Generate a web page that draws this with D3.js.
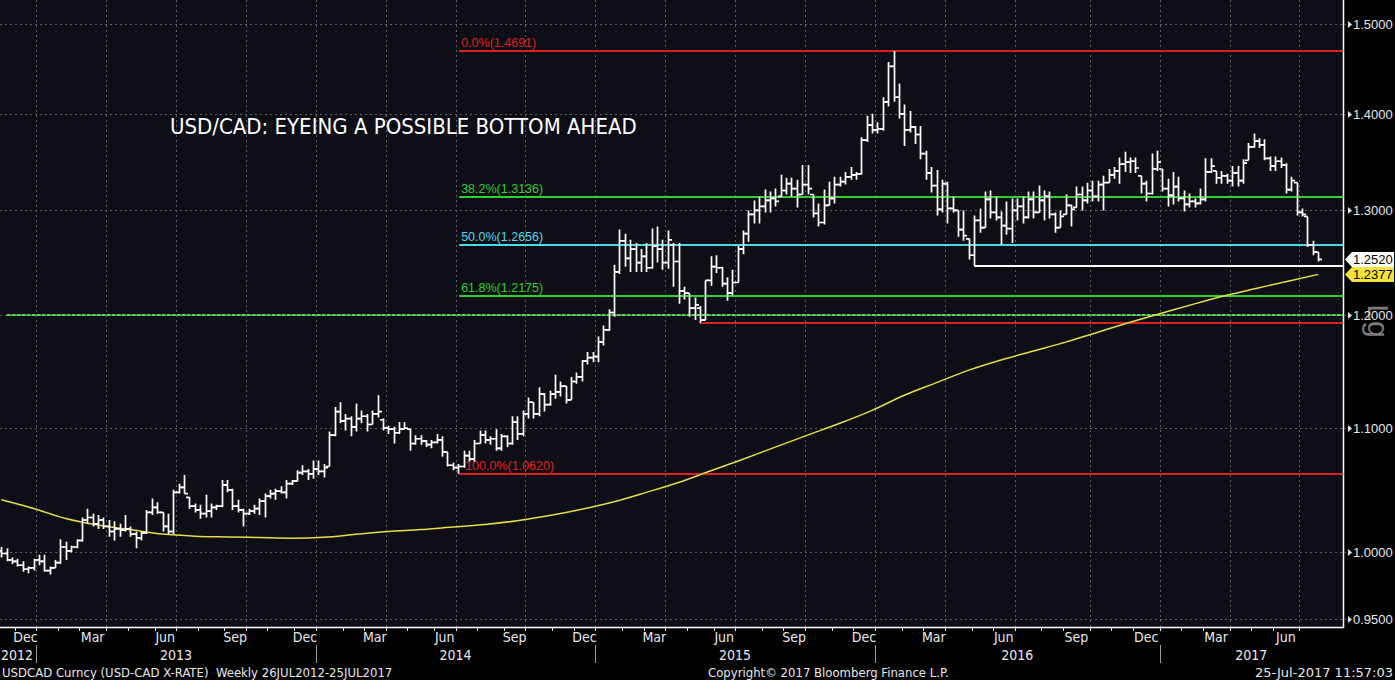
<!DOCTYPE html>
<html><head><meta charset="utf-8">
<script src="https://cdn.jsdelivr.net/npm/d3@7"></script>
<style>
html,body{margin:0;padding:0;background:#000;}
svg{display:block;}
</style></head><body>
<svg id="chart" width="1395" height="680"></svg>
<script>
// ---------- DATA ----------
const firstWeek = "2012-11-16";   // first visible weekly bar (Friday)
const lastWeek  = "2017-07-28";   // last weekly bar
const highs = [
1.004,1.003,0.996,0.995,0.993,0.989,0.995,0.998,0.998,0.989,
0.994,1.010,1.008,1.005,1.010,1.027,1.034,1.030,1.029,1.027,
1.025,1.024,1.022,1.029,1.020,1.016,1.016,1.033,1.042,1.039,
1.031,1.030,1.049,1.054,1.061,1.043,1.038,1.037,1.045,1.038,
1.037,1.057,1.057,1.050,1.041,1.034,1.034,1.037,1.042,1.046,
1.049,1.050,1.052,1.057,1.057,1.065,1.069,1.066,1.073,1.073,
1.070,1.097,1.118,1.122,1.112,1.110,1.121,1.115,1.112,1.115,
1.128,1.108,1.102,1.101,1.105,1.105,1.099,1.094,1.094,1.090,
1.090,1.095,1.093,1.080,1.071,1.070,1.081,1.081,1.090,1.098,
1.098,1.093,1.099,1.095,1.094,1.110,1.110,1.115,1.126,1.122,
1.135,1.130,1.132,1.146,1.140,1.136,1.144,1.148,1.159,1.166,
1.166,1.180,1.190,1.205,1.247,1.281,1.277,1.271,1.268,1.262,
1.268,1.282,1.284,1.271,1.280,1.268,1.268,1.226,1.220,1.216,
1.208,1.232,1.255,1.256,1.245,1.235,1.242,1.265,1.280,1.300,
1.310,1.314,1.321,1.319,1.322,1.336,1.333,1.333,1.331,1.346,
1.346,1.316,1.307,1.321,1.329,1.334,1.334,1.339,1.344,1.339,
1.375,1.398,1.400,1.391,1.418,1.457,1.4691,1.433,1.410,1.403,
1.387,1.387,1.361,1.344,1.341,1.331,1.329,1.314,1.300,1.300,
1.272,1.295,1.302,1.319,1.320,1.314,1.299,1.309,1.312,1.312,
1.314,1.319,1.319,1.325,1.320,1.319,1.298,1.300,1.316,1.306,
1.324,1.324,1.328,1.330,1.330,1.335,1.342,1.344,1.354,1.360,
1.354,1.354,1.335,1.330,1.358,1.361,1.342,1.332,1.339,1.334,
1.320,1.317,1.312,1.322,1.353,1.353,1.340,1.340,1.337,1.345,
1.345,1.352,1.369,1.379,1.374,1.373,1.355,1.355,1.354,1.348,
1.334,1.328,1.302,1.294,1.270,1.259];
const lows = [
0.996,0.993,0.991,0.989,0.985,0.984,0.986,0.990,0.985,0.983,
0.988,0.991,0.994,1.000,1.003,1.008,1.022,1.020,1.018,1.018,
1.012,1.009,1.012,1.016,1.012,1.003,1.009,1.014,1.029,1.030,
1.016,1.014,1.014,1.046,1.046,1.034,1.031,1.026,1.027,1.027,
1.033,1.035,1.047,1.033,1.031,1.020,1.029,1.030,1.029,1.027,
1.042,1.041,1.046,1.042,1.053,1.056,1.061,1.057,1.058,1.061,
1.059,1.068,1.093,1.104,1.098,1.093,1.097,1.104,1.097,1.103,
1.109,1.098,1.095,1.087,1.095,1.099,1.081,1.086,1.086,1.084,
1.083,1.087,1.076,1.068,1.065,1.0620,1.067,1.072,1.072,1.087,
1.087,1.086,1.081,1.081,1.084,1.086,1.090,1.093,1.108,1.108,
1.110,1.114,1.119,1.125,1.127,1.121,1.124,1.138,1.140,1.155,
1.157,1.157,1.172,1.185,1.198,1.238,1.245,1.240,1.240,1.240,
1.240,1.243,1.249,1.242,1.243,1.226,1.210,1.214,1.198,1.195,
1.1920,1.195,1.227,1.239,1.226,1.213,1.218,1.230,1.257,1.269,
1.287,1.287,1.298,1.298,1.304,1.314,1.316,1.314,1.303,1.316,
1.316,1.293,1.284,1.286,1.305,1.307,1.324,1.326,1.331,1.331,
1.336,1.370,1.379,1.379,1.382,1.408,1.413,1.395,1.366,1.380,
1.368,1.352,1.331,1.318,1.295,1.298,1.287,1.298,1.274,1.270,
1.252,1.2461,1.278,1.283,1.292,1.290,1.266,1.276,1.268,1.290,
1.287,1.292,1.292,1.298,1.290,1.292,1.278,1.283,1.296,1.284,
1.303,1.300,1.307,1.309,1.309,1.300,1.328,1.332,1.327,1.339,
1.338,1.338,1.317,1.309,1.316,1.340,1.319,1.304,1.306,1.309,
1.299,1.303,1.303,1.306,1.309,1.338,1.327,1.327,1.327,1.324,
1.324,1.327,1.351,1.364,1.364,1.351,1.340,1.340,1.343,1.317,
1.319,1.295,1.294,1.264,1.256,1.250];
const opens = [
1.001,0.999,0.994,0.993,0.990,0.987,0.988,0.994,0.993,0.986,
0.988,0.992,1.004,1.001,1.004,1.009,1.025,1.027,1.022,1.025,
1.020,1.016,1.018,1.017,1.018,1.014,1.011,1.015,1.031,1.035,
1.031,1.020,1.016,1.047,1.051,1.043,1.036,1.033,1.030,1.032,
1.035,1.036,1.053,1.049,1.036,1.033,1.030,1.032,1.034,1.040,
1.044,1.046,1.048,1.047,1.054,1.056,1.063,1.064,1.062,1.066,
1.064,1.068,1.094,1.114,1.106,1.108,1.101,1.108,1.110,1.103,
1.112,1.107,1.100,1.099,1.096,1.099,1.099,1.087,1.091,1.089,
1.086,1.088,1.090,1.080,1.069,1.067,1.068,1.077,1.074,1.087,
1.094,1.090,1.091,1.083,1.093,1.087,1.105,1.095,1.112,1.122,
1.112,1.129,1.120,1.129,1.131,1.136,1.124,1.140,1.144,1.158,
1.161,1.162,1.175,1.186,1.202,1.240,1.270,1.253,1.262,1.249,
1.255,1.244,1.265,1.262,1.249,1.266,1.250,1.222,1.220,1.206,
1.206,1.195,1.232,1.245,1.244,1.229,1.220,1.230,1.262,1.277,
1.296,1.300,1.304,1.310,1.312,1.314,1.320,1.327,1.322,1.316,
1.326,1.316,1.297,1.288,1.305,1.312,1.326,1.329,1.334,1.336,
1.337,1.372,1.388,1.383,1.384,1.413,1.452,1.418,1.400,1.383,
1.386,1.378,1.358,1.338,1.325,1.301,1.327,1.302,1.300,1.281,
1.272,1.256,1.290,1.283,1.311,1.298,1.293,1.285,1.282,1.300,
1.304,1.293,1.311,1.298,1.310,1.314,1.296,1.283,1.296,1.305,
1.303,1.316,1.310,1.320,1.314,1.326,1.328,1.336,1.340,1.347,
1.349,1.350,1.335,1.327,1.317,1.342,1.342,1.322,1.315,1.324,
1.312,1.306,1.309,1.307,1.311,1.339,1.340,1.333,1.335,1.330,
1.338,1.330,1.351,1.365,1.371,1.367,1.353,1.345,1.350,1.346,
1.321,1.328,1.298,1.294,1.266,1.259];
const closes = [
0.999,0.994,0.993,0.990,0.987,0.988,0.994,0.993,0.986,0.988,
0.992,1.004,1.001,1.004,1.009,1.025,1.027,1.022,1.025,1.020,
1.016,1.018,1.017,1.018,1.014,1.011,1.015,1.031,1.035,1.031,
1.020,1.016,1.047,1.051,1.046,1.036,1.033,1.030,1.032,1.035,
1.036,1.053,1.049,1.036,1.033,1.030,1.032,1.034,1.040,1.044,
1.046,1.048,1.047,1.054,1.056,1.063,1.064,1.062,1.066,1.064,
1.067,1.094,1.114,1.106,1.108,1.101,1.108,1.110,1.103,1.112,
1.114,1.100,1.099,1.096,1.099,1.100,1.087,1.091,1.089,1.086,
1.088,1.090,1.080,1.069,1.067,1.068,1.077,1.074,1.087,1.094,
1.090,1.091,1.083,1.093,1.087,1.105,1.095,1.112,1.122,1.112,
1.129,1.120,1.129,1.131,1.136,1.124,1.140,1.144,1.158,1.161,
1.162,1.175,1.186,1.202,1.240,1.270,1.253,1.262,1.249,1.255,
1.244,1.265,1.262,1.249,1.271,1.250,1.222,1.220,1.206,1.209,
1.195,1.232,1.245,1.244,1.229,1.220,1.230,1.262,1.277,1.296,
1.300,1.304,1.310,1.312,1.309,1.320,1.327,1.322,1.316,1.326,
1.322,1.297,1.288,1.305,1.312,1.326,1.329,1.334,1.336,1.337,
1.372,1.388,1.383,1.384,1.413,1.452,1.418,1.400,1.383,1.386,
1.378,1.358,1.338,1.325,1.301,1.327,1.302,1.300,1.281,1.275,
1.256,1.290,1.283,1.311,1.298,1.293,1.285,1.282,1.300,1.304,
1.293,1.311,1.298,1.310,1.314,1.296,1.283,1.294,1.305,1.301,
1.316,1.310,1.320,1.314,1.326,1.328,1.336,1.340,1.347,1.349,
1.350,1.343,1.327,1.317,1.342,1.349,1.322,1.315,1.324,1.312,
1.306,1.309,1.307,1.311,1.339,1.345,1.333,1.335,1.330,1.338,
1.330,1.348,1.365,1.371,1.367,1.353,1.345,1.350,1.346,1.321,
1.330,1.298,1.296,1.266,1.259,1.2520];
// moving average (yellow), sampled every 6th weekly bar plus the last bar
const maEvery = 6;
const maValues = [
1.0410,1.0341,1.0262,1.0210,1.0175,1.0140,1.0124,1.0118,1.0113,1.0108,
1.0115,1.0138,1.0160,1.0175,1.0195,1.0215,1.0245,1.0285,1.0335,1.0395,
1.0470,1.0550,1.0645,1.0740,1.0840,1.0940,1.1040,1.1150,1.1280,1.1390,
1.1500,1.1590,1.1670,1.1750,1.1840,1.1930,1.2015,1.2100,1.2180,1.2250,
1.2320,1.2377];
const yTicks = [0.95, 1.0, 1.1, 1.2, 1.3, 1.4, 1.5];
const fibLabels = ["0.0%", "38.2%", "50.0%", "61.8%", "100.0%"];
const fibValues = [1.4691, 1.3136, 1.2656, 1.2175, 1.0620];
const fibAnchorWeek = 85;          // bar of the 1.0620 low where the retracement starts
const supportValue = 1.1920;       // May-2015 low (red line)
const supportWeek = 130;
const recentLowValue = 1.2461;     // May-2016 low (white line)
const recentLowWeek = 181;
const roundLevel = 1.2000;         // dashed green line
const lastClose = 1.2520;
const lastMA = 1.2377;
const title = "USD/CAD: EYEING A POSSIBLE BOTTOM AHEAD";
const footerLeft = "USDCAD Curncy (USD-CAD X-RATE)\u00A0\u00A0Weekly 26JUL2012-25JUL2017";
const footerMid = "Copyright\u00A9 2017 Bloomberg Finance L.P.";
const footerRight = "25-Jul-2017 11:57:03";

// ---------- LAYOUT ----------
const W = 1395, H = 680;
const plotR = 1343, plotB = 627;
const narrow = "'Liberation Sans Narrow','Arial Narrow','DejaVu Sans Condensed',sans-serif";
const regular = "'Liberation Sans',Arial,sans-serif";

const parse = d3.timeParse("%Y-%m-%d");
const weeks = d3.timeFriday.range(parse(firstWeek), d3.timeDay.offset(parse(lastWeek), 1));
const n = closes.length;
const bars = d3.range(n).map(i => ({i, date: weeks[i], o: opens[i], h: highs[i], l: lows[i], c: closes[i]}));

const x = d3.scaleLinear().domain([0, n - 1]).range([1.3, 1.3 + 5.375 * (n - 1)]);
const y = d3.scaleLog().domain([0.95, 1.5]).range([619, 24]);
const half = 2.6;

const svg = d3.select("#chart");
svg.append("rect").attr("width", W).attr("height", H).attr("fill", "#000");
svg.append("rect").attr("width", plotR).attr("height", plotB).attr("fill", "#0e0e16");

svg.append("defs").append("clipPath").attr("id", "clip")
  .append("rect").attr("width", plotR).attr("height", plotB);
const plot = svg.append("g").attr("clip-path", "url(#clip)");

// month groups
const monthGroups = d3.groups(bars, b => d3.timeMonth(b.date)).map(([m, arr]) => ({m, first: arr[0].i, last: arr[arr.length - 1].i}));
const yearGroups = d3.groups(bars, b => b.date.getFullYear()).map(([yr, arr]) => ({yr, first: arr[0].i, last: arr[arr.length - 1].i}));

// grid
const gridColor = "#5e5e66";
const grid = plot.append("g").attr("stroke", gridColor).attr("stroke-width", 1).attr("stroke-dasharray", "2,3");
monthGroups.filter(g => g.m.getMonth() % 3 === 0 && g.first > 0).forEach(g => {
  const gx = Math.round(x(g.first) - half) + 0.5;
  grid.append("line").attr("x1", gx).attr("x2", gx).attr("y1", 0).attr("y2", plotB);
});
yTicks.forEach(t => {
  const gy = Math.round(y(t)) + 0.5;
  grid.append("line").attr("x1", 0).attr("x2", plotR).attr("y1", gy).attr("y2", gy);
});

// horizontal studies
const fibColors = ["#e01e1e", "#2fd02f", "#4fd8e8", "#2fd02f", "#e01e1e"];
const fx0 = x(fibAnchorWeek) + 1;
function hline(v, x0, color, dash) {
  const yy = Math.round(y(v));
  const l = plot.append("line").attr("x1", x0).attr("x2", plotR).attr("y1", yy).attr("y2", yy)
    .attr("stroke", color).attr("stroke-width", 2);
  if (dash) l.attr("stroke-dasharray", dash);
  return yy;
}
fibValues.forEach((v, k) => {
  const yy = hline(v, fx0, fibColors[k]);
  plot.append("text").attr("x", fx0 + (k === 4 ? 6 : 2)).attr("y", yy - 4)
    .attr("fill", fibColors[k]).attr("font-family", regular).attr("font-size", 12.5)
    .text(fibLabels[k] + "(" + d3.format(".4f")(v) + ")");
});
hline(roundLevel, x(1), "#5ad85a", "4,1");
hline(supportValue, x(supportWeek) + 2, "#e01e1e");
hline(recentLowValue, x(recentLowWeek), "#ffffff");

// moving average
const maPts = maValues.map((v, k) => ({i: Math.min(k * maEvery, n - 1), v}));
plot.append("path").datum(maPts)
  .attr("d", d3.line().x(d => x(d.i)).y(d => y(d.v)).curve(d3.curveMonotoneX))
  .attr("fill", "none").attr("stroke", "#e8dc48").attr("stroke-width", 1.5);

// OHLC bars
const gb = plot.append("g").attr("stroke", "#ffffff").attr("stroke-width", 1.7).attr("fill", "none");
gb.selectAll("path").data(bars).join("path")
  .attr("d", d => {
    const cx = Math.round(x(d.i)) + 0.5;
    return `M${cx},${y(d.h)}V${y(d.l)}M${cx - 3.5},${y(d.o)}H${cx}M${cx},${y(d.c)}H${cx + 3.5}`;
  });

// title
svg.append("text").attr("x", 170).attr("y", 134).attr("fill", "#fff")
  .attr("font-family", narrow).attr("font-size", 22).text(title);

// frame
svg.append("line").attr("x1", plotR + 0.5).attr("x2", plotR + 0.5).attr("y1", 0).attr("y2", plotB + 1)
  .attr("stroke", "#fff").attr("stroke-width", 1.5);
svg.append("line").attr("x1", 0).attr("x2", plotR + 1).attr("y1", plotB + 0.5).attr("y2", plotB + 0.5)
  .attr("stroke", "#fff").attr("stroke-width", 1.5);

// "Lg" (log-scale marker)
svg.append("text").attr("transform", `translate(1368,321) rotate(90)`).attr("text-anchor", "middle")
  .attr("fill", "#7c7c7c").attr("font-family", regular).attr("font-size", 30).text("Lg");

// right axis
const ya = svg.append("g");
yTicks.forEach(t => {
  const yy = Math.round(y(t)) + 0.5;
  ya.append("line").attr("x1", plotR + 1).attr("x2", plotR + 6).attr("y1", yy).attr("y2", yy)
    .attr("stroke", gridColor).attr("stroke-dasharray", "2,2");
  ya.append("path").attr("d", `M${plotR + 5},${yy - 3.5}L${plotR + 9},${yy}L${plotR + 5},${yy + 3.5}Z`).attr("fill", "#e8e8e8");
  ya.append("text").attr("x", plotR + 10).attr("y", yy).attr("dy", "0.35em")
    .attr("fill", "#e8e8e8").attr("font-family", regular).attr("font-size", 13)
    .text(d3.format(".4f")(t));
});
function tag(v, bg) {
  const yy = y(v);
  svg.append("path").attr("d", `M${plotR + 2},${yy}L${plotR + 9},${yy - 7.5}H${W - 1}V${yy + 7.5}H${plotR + 9}Z`).attr("fill", bg);
  svg.append("text").attr("x", plotR + 10).attr("y", yy).attr("dy", "0.36em").attr("fill", "#000")
    .attr("font-family", regular).attr("font-size", 13).text(d3.format(".4f")(v));
}
tag(lastClose, "#ffffff");
tag(lastMA, "#f2e23a");

// bottom axis
const xa = svg.append("g").attr("fill", "#e8e8e8").attr("font-family", narrow).attr("font-size", 14);
monthGroups.forEach(g => {
  const tx = Math.round(x(g.first) - half) + 0.5;
  if (g.first > 0) xa.append("line").attr("x1", tx).attr("x2", tx).attr("y1", plotB).attr("y2", plotB + 4)
    .attr("stroke", "#e8e8e8").attr("stroke-width", 1);
  if (g.m.getMonth() % 3 === 2 && g.last - g.first >= 2)
    xa.append("text").attr("x", (x(g.first) + x(g.last)) / 2).attr("y", 637).attr("dy", "0.35em")
      .attr("text-anchor", "middle").text(d3.timeFormat("%b")(g.m));
});
const yearEdges = yearGroups.map(g => x(g.first) - half);
yearGroups.forEach((g, k) => {
  if (k > 0) {
    const sx = Math.round(yearEdges[k]) + 0.5;
    xa.append("line").attr("x1", sx).attr("x2", sx).attr("y1", 645).attr("y2", 663).attr("stroke", "#9a9a9a");
  }
  const left = k === 0 ? 0 : yearEdges[k];
  const right = k < yearGroups.length - 1 ? yearEdges[k + 1] : plotR;
  const t = xa.append("text").attr("y", 655).attr("dy", "0.35em").text(g.yr);
  if (k === 0) t.attr("x", 1); else t.attr("x", (left + right) / 2).attr("text-anchor", "middle");
});
const ft = svg.append("g").attr("fill", "#e8e8e8").attr("font-family", narrow).attr("font-size", 13);
ft.append("text").attr("x", 2).attr("y", 672).attr("dy", "0.35em").text(footerLeft);
ft.append("text").attr("x", 708).attr("y", 672).attr("dy", "0.35em").text(footerMid);
ft.append("text").attr("x", W - 2).attr("y", 672).attr("dy", "0.35em").attr("text-anchor", "end")
  .attr("textLength", 138).attr("lengthAdjust", "spacingAndGlyphs").text(footerRight);
</script>
</body></html>
